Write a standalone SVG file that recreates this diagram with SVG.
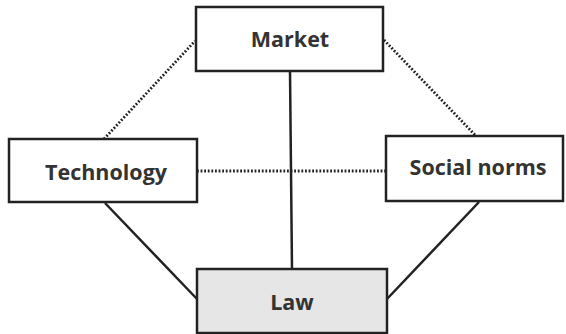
<svg xmlns="http://www.w3.org/2000/svg" width="566" height="334" viewBox="0 0 566 334">
<style>
.box{fill:#fff;stroke:#222;stroke-width:2.5}
.law{fill:#e6e6e6;stroke:#222;stroke-width:2.5}
.lbl{font-family:"Open Sans","Liberation Sans",sans-serif;font-weight:bold;font-size:21.5px;fill:#333;text-anchor:middle}
.solid{stroke:#222;stroke-width:2.5;fill:none}
.dot{stroke:#222;stroke-width:2.8;fill:none;stroke-dasharray:1.8 1.8}
</style>
<rect width="566" height="334" fill="#fff"/>
<g id="connectors">
<line class="dot" x1="104" y1="139" x2="195" y2="41"/>
<line class="dot" x1="384" y1="40" x2="476" y2="136"/>
<line class="dot" x1="197" y1="171" x2="386" y2="171"/>
<line class="solid" x1="290" y1="71" x2="292" y2="269"/>
<line class="solid" x1="105" y1="203" x2="197" y2="299"/>
<line class="solid" x1="479" y1="202" x2="387" y2="299"/>
</g>
<g id="market">
<rect class="box" x="196" y="7" width="187" height="64"/>
<text class="lbl" x="290" y="47">Market</text>
</g>
<g id="technology">
<rect class="box" x="9" y="139" width="188" height="63"/>
<text class="lbl" x="106" y="180">Technology</text>
</g>
<g id="social-norms">
<rect class="box" x="386" y="136" width="177" height="65"/>
<text class="lbl" x="478" y="175">Social norms</text>
</g>
<g id="law">
<rect class="law" x="197" y="269" width="190" height="64"/>
<text class="lbl" x="292" y="310">Law</text>
</g>
</svg>
